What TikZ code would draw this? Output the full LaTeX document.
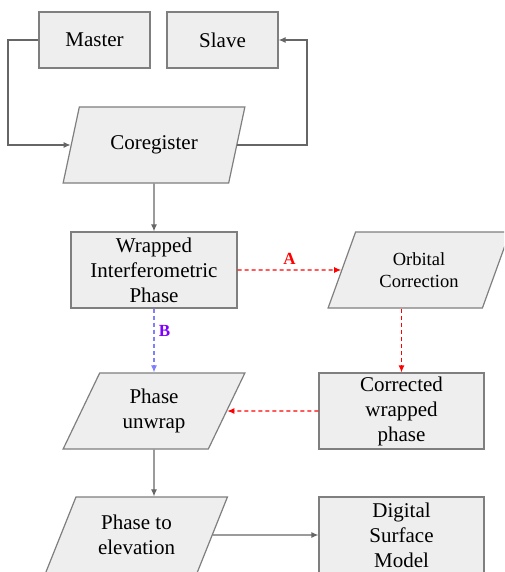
\documentclass[tikz,border=0pt]{standalone}
\usepackage{fontspec}
\setmainfont{Liberation Serif}
\newfontfamily\diagfont{Liberation Serif}
\usetikzlibrary{shapes.geometric,arrows.meta}
\definecolor{boxfill}{HTML}{EEEEEE}
\definecolor{boxline}{HTML}{7F7F7F}
\definecolor{flowline}{HTML}{666666}
\definecolor{linkA}{HTML}{FF0000}
\definecolor{linkB}{HTML}{8080FF}
\definecolor{labelB}{HTML}{7F00FF}
\tikzset{
  procbox/.style={draw=boxline, fill=boxfill, line width=1.2pt, align=center,
    inner sep=1pt, font=\diagfont\fontsize{21}{25}\selectfont},
  databox/.style={procbox, shape=trapezium, trapezium left angle=64.6,
    trapezium right angle=115.4, trapezium stretches=true,
    minimum width=182pt, minimum height=76pt},
  flow/.style={draw=flowline, line width=1.2pt, -{Latex[length=7pt,width=6pt]}},
  pathA/.style={draw=linkA, line width=1.2pt, dash pattern=on 4pt off 3pt,
    -{Latex[length=7pt,width=6pt]}},
  pathB/.style={draw=linkB, line width=1.2pt, dash pattern=on 4pt off 3pt,
    -{Latex[length=7pt,width=6pt]}},
  tag/.style={font=\diagfont\fontsize{17}{20}\selectfont\bfseries},
}
\begin{document}
\begin{tikzpicture}[x=1pt,y=-1pt]
  \clip (0,0) rectangle (504,572);
  \fill[white] (0,0) rectangle (504,572);

  % input images
  \node[procbox, minimum width=111pt, minimum height=56pt] (master) at (94.5,40) {Master};
  \node[procbox, minimum width=111pt, minimum height=56pt] (slave) at (222.5,40) {Slave};

  % processing chain
  \node[databox] (coreg) at (154,145) {Coregister};
  \node[procbox, minimum width=166pt, minimum height=76pt] (wrapped) at (154,270)
    {Wrapped\\Interferometric\\Phase};
  \node[databox, font=\diagfont\fontsize{18.5}{22}\selectfont] (orbital) at (419,270)
    {Orbital\\Correction};
  \node[procbox, minimum width=165pt, minimum height=76pt] (corrected) at (401.5,411)
    {Corrected\\wrapped\\phase};
  \node[databox] (unwrap) at (154,411) {Phase\\unwrap};
  \node[databox] (elev) at (136.5,535) {Phase to\\elevation};
  \node[procbox, minimum width=165pt, minimum height=76pt] (dsm) at (401.5,535)
    {Digital\\Surface\\Model};

  % turning points of the two feedback loops
  \coordinate (turnL) at (8,145);
  \coordinate (turnR) at (307,145);

  % connectors
  \draw[flow] (master.west) -| (turnL) -- (coreg.left side);
  \draw[flow] (coreg.right side) -- (turnR) |- (slave.east);
  \draw[flow] (coreg) -- (wrapped);
  \draw[pathA] (wrapped) -- node[above=2pt, text=linkA, tag] (lblA) {A} (orbital);
  \draw[pathA] (corrected.north |- orbital.south) -- (corrected.north);
  \draw[pathA] (corrected) -- (unwrap);
  \draw[pathB] (wrapped) -- node[right=1pt, pos=0.35, text=labelB, tag] (lblB) {B} (unwrap);
  \draw[flow] (unwrap) -- (unwrap |- elev.north);
  \draw[flow] (elev) -- (dsm);
\end{tikzpicture}
\end{document}
